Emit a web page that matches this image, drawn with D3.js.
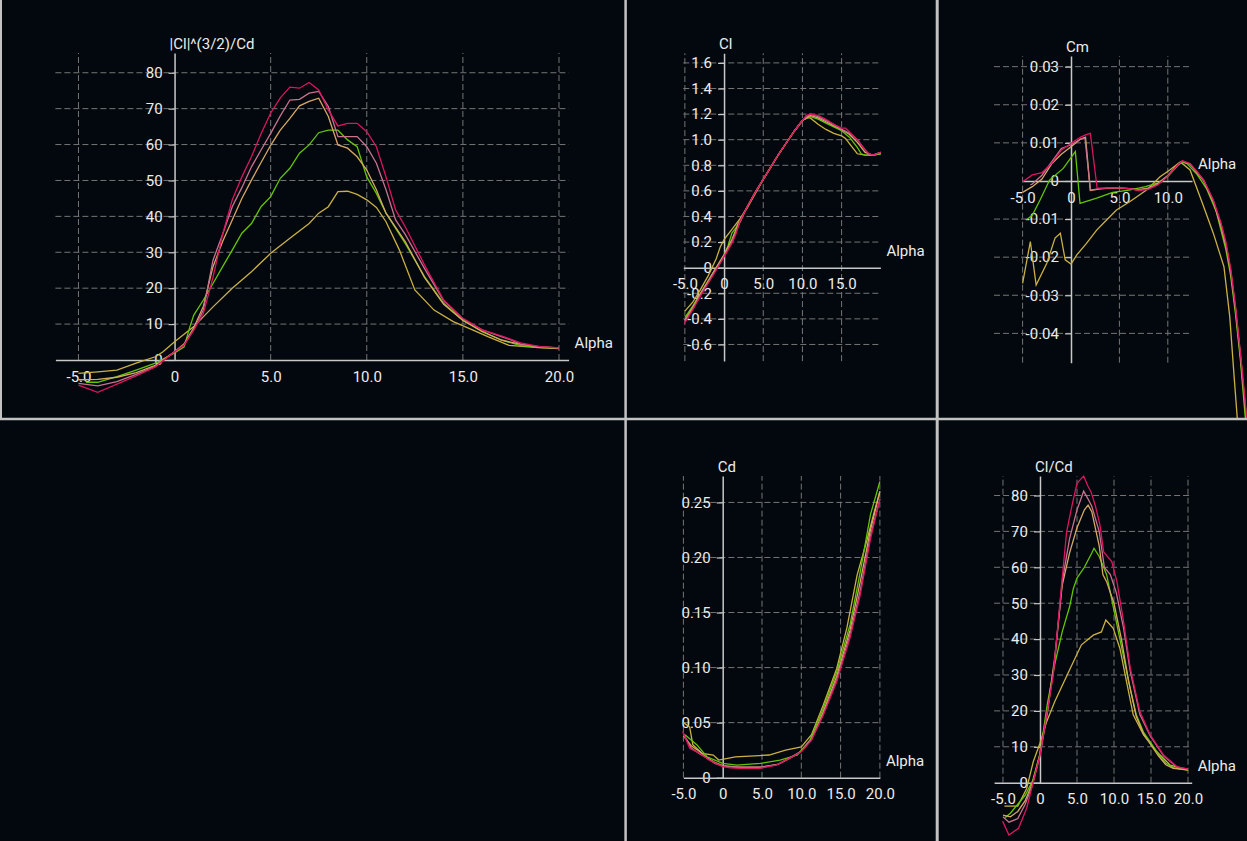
<!DOCTYPE html>
<html>
<head>
<meta charset="utf-8">
<script src="https://cdn.jsdelivr.net/npm/d3@7/dist/d3.min.js"></script>
<style>
html, body { margin: 0; padding: 0; background: #02080d; }
svg { display: block; }
text { font-family: Roboto, "Liberation Sans", Arial, sans-serif; fill: #ececec; }
</style>
</head>
<body>
<svg id="chart" width="1247" height="841"></svg>
<script>
// series order: crimson, pink, tan, green, yellow
var seriesColors = ["#dc1560", "#c8738f", "#d9a864", "#62c700", "#cbb143"];

// |Cl|^(3/2)/Cd vs alpha
var ratioCrimson = [[-5,-7],[-4,-9],[-3,-6.7],[-2,-4.4],[-1,-1.9],[0,2.3],[0.5,4.2],[1,8.4],[1.5,13],[2,23],[2.5,35],[3,44.6],[3.5,51],[4,56.6],[4.5,63],[5,68.8],[5.5,73],[6,76],[6.5,75.7],[7,77.3],[7.5,75.2],[8,69.6],[8.5,65.2],[9,65.9],[9.5,65.9],[10,63.6],[10.5,59.4],[11,51],[11.5,41.8],[12,37.1],[13,26.5],[14,16.7],[15,11.6],[16,8.4],[17,6.7],[18,4.8],[19,3.7],[20,3.4]];
var ratioPink = [[-5,-6.5],[-4,-7.2],[-3,-6],[-2,-4],[-1,-1.8],[0,2.3],[0.5,4.3],[1,8.5],[1.5,14],[2,27.8],[2.5,35],[3,42.7],[3.5,48],[4,53.8],[4.5,58.5],[5,63.1],[5.5,68],[6,72.4],[6.5,72.6],[7,74.3],[7.5,74.8],[8,70.6],[8.5,62.2],[9,62.2],[9.5,62.2],[10,59.4],[10.5,54.8],[11,47.4],[11.5,39],[12,35],[13,25.5],[14,16.5],[15,11.5],[16,8.4],[17,6.5],[17.5,5.6],[18,4.4],[19,3.7],[20,3.4]];
var ratioTan = [[-5,-5.5],[-4,-5.4],[-3,-4.8],[-2,-3.5],[-1,-1.5],[0,2.3],[0.5,4.5],[1,9],[1.5,15],[2,26],[2.5,33],[3,39],[3.5,45],[4,50.1],[4.5,55],[5,59.8],[5.5,64],[6,67.3],[6.5,70.8],[7,72],[7.5,72.9],[8,67.8],[8.5,59.9],[9,59],[9.5,56.6],[10,52.9],[10.5,47.4],[11,40.9],[12,33],[13,23],[14,15.5],[15,11],[16,8],[17,5.5],[18,4.4],[19,3.6],[20,3.4]];
var ratioGreen = [[-4.6,-6.2],[-4,-6.2],[-3,-4.6],[-2,-2.8],[-1,-0.9],[0,2],[0.5,3.7],[0.8,9.3],[1,12.5],[1.5,16.7],[2,21.3],[2.5,26],[3,30.6],[3.5,35.3],[4,38],[4.5,42.7],[5,45.5],[5.5,50.6],[6,53.4],[6.5,57.6],[7,59.9],[7.5,63.3],[8,64],[8.5,64],[9,61.3],[9.5,59.4],[10,51],[10.5,46.4],[11,40.9],[12,32.5],[13,23.2],[14,15.8],[15,11.1],[16,7.9],[17,5.6],[18,4],[19,3.5],[20,3.4]];
var ratioYellow = [[-5,-3.7],[-4,-3.3],[-3,-2.8],[-2,-0.9],[-1,0.9],[-0.6,2.3],[0,5.1],[1,9.3],[2,14.8],[3,20],[4,24.6],[5,29.7],[6,33.9],[7,38],[7.5,40.9],[8,42.7],[8.5,46.9],[9,47],[9.5,46.1],[10,44.6],[10.5,42.5],[11,38.5],[11.7,30.6],[12.5,19.5],[13.5,13.9],[14.5,10.7],[15.5,8.4],[16.3,6.5],[17.4,4.1],[19.1,3.4],[20,3.2]];

// Cl vs alpha
var clCrimson = [[-5.1,-0.44],[-4,-0.33],[-3,-0.22],[-2,-0.12],[-1,-0.02],[0,0.085],[1,0.19],[1.5,0.26],[2,0.36],[3,0.48],[4,0.59],[5,0.69],[6,0.79],[7,0.89],[8,0.98],[9,1.07],[10,1.15],[10.5,1.19],[11,1.2],[12,1.19],[13,1.16],[14,1.12],[15,1.09],[15.5,1.09],[16,1.06],[17,1.0],[18,0.92],[18.5,0.89],[19,0.88],[20,0.9]];
var clPink = [[-5,-0.42],[-4,-0.32],[-3,-0.21],[-2,-0.11],[-1,-0.01],[0,0.09],[1,0.2],[2,0.35],[3,0.48],[4,0.59],[5,0.69],[6,0.79],[7,0.89],[8,0.98],[9,1.07],[10,1.15],[11,1.2],[12,1.18],[13,1.15],[14,1.12],[15,1.08],[16,1.05],[17,1.0],[18,0.92],[18.5,0.88],[19,0.88],[20,0.9]];
var clTan = [[-5,-0.41],[-4,-0.31],[-3,-0.2],[-2,-0.1],[-1,0.0],[0,0.1],[1,0.22],[2,0.37],[3,0.48],[4,0.59],[5,0.69],[6,0.79],[7,0.89],[8,0.98],[9,1.07],[10,1.15],[11,1.19],[12,1.17],[13,1.14],[14,1.11],[15,1.08],[16,1.04],[17,0.98],[18,0.9],[19,0.88],[20,0.9]];
var clGreen = [[-5,-0.39],[-4,-0.3],[-3,-0.2],[-2,-0.1],[-1,0.0],[0,0.1],[0.5,0.17],[1,0.27],[1.5,0.31],[2,0.37],[3,0.48],[4,0.59],[5,0.69],[6,0.79],[7,0.89],[8,0.98],[9,1.07],[10,1.15],[11,1.18],[12,1.16],[13,1.13],[14,1.1],[15,1.07],[16,1.02],[17,0.94],[17.5,0.89],[18,0.88],[19,0.88],[20,0.89]];
var clYellow = [[-5,-0.34],[-4,-0.27],[-3,-0.17],[-2,-0.06],[-1,0.07],[-0.5,0.16],[0,0.22],[1,0.3],[2,0.38],[3,0.47],[4,0.58],[5,0.69],[6,0.79],[7,0.89],[8,0.98],[9,1.07],[10,1.15],[10.5,1.17],[11,1.17],[12,1.12],[13,1.08],[14,1.05],[15,1.03],[15.5,1.01],[16,0.97],[17,0.89],[18,0.88],[19,0.88],[20,0.89]];

// Cm vs alpha
var cmCrimson = [[-5,-0.0002],[-4,0.0016],[-3,0.0022],[-2,0.0046],[-1,0.0081],[0,0.0099],[1,0.0115],[1.5,0.0121],[2,0.0125],[2.7,-0.0019],[3,-0.0019],[4,-0.0018],[5,-0.0018],[6,-0.002],[7,-0.0025],[8,-0.0022],[9,-0.001],[10,0.0012],[11,0.0042],[11.5,0.0053],[12.3,0.0046],[13,0.0025],[13.7,0.0003],[14.7,-0.005],[15.5,-0.011],[16,-0.016],[16.5,-0.023],[17,-0.033],[17.5,-0.045],[18,-0.058],[18.5,-0.072],[19,-0.088]];
var cmPink = [[-4.2,-0.001],[-4,-0.0008],[-3,0.0015],[-2,0.005],[-1,0.0085],[0,0.0095],[1,0.011],[1.45,0.0112],[2,-0.0024],[3,-0.002],[4,-0.0018],[5,-0.0018],[6,-0.002],[7,-0.0024],[8,-0.002],[9,-0.0008],[10,0.0013],[11,0.0042],[11.5,0.0052],[12.3,0.0045],[13,0.0024],[13.7,0.0002],[14.7,-0.0052],[15.5,-0.0115],[16,-0.0165],[16.5,-0.0235],[17,-0.0335],[17.5,-0.0455],[18,-0.059],[18.5,-0.073],[19,-0.089]];
var cmTan = [[-5,-0.003],[-4,-0.0015],[-3,0.0005],[-2,0.0045],[-1,0.007],[0,0.009],[1,0.011],[1.5,0.0115],[2,-0.0025],[3,-0.0021],[4,-0.0019],[5,-0.0019],[6,-0.002],[7,-0.0023],[8,-0.0019],[9,-0.0006],[10,0.0014],[11,0.0043],[11.5,0.0052],[12.3,0.0044],[13,0.0022],[13.7,0.0],[14.7,-0.0055],[15.5,-0.012],[16,-0.017],[16.5,-0.024],[17,-0.034],[17.5,-0.046],[18,-0.06],[18.5,-0.074],[19,-0.09]];
var cmGreen = [[-4.6,-0.0102],[-4,-0.009],[-3.2,-0.005],[-2.2,0.0003],[-0.8,0.0033],[0.45,0.0077],[0.93,-0.0059],[2.65,-0.0045],[4.3,-0.003],[6,-0.0024],[7.7,-0.0015],[9,-0.0005],[10,0.0012],[11,0.004],[11.5,0.005],[12,0.0045],[13,0.0018],[14,-0.002],[15,-0.008],[16,-0.018],[16.5,-0.025],[17,-0.035],[17.5,-0.047],[18,-0.062],[18.5,-0.078]];
var cmYellow = [[-5,-0.0269],[-4.2,-0.0159],[-3.6,-0.0273],[-2.5,-0.0216],[-1.65,-0.015],[-1.1,-0.0137],[-0.6,-0.0207],[0,-0.0218],[0.6,-0.0194],[1.6,-0.0164],[2.65,-0.0129],[3.7,-0.0102],[4.7,-0.0076],[6.1,-0.0054],[7.8,-0.0024],[9.2,0.0011],[10.2,0.0029],[11.3,0.005],[12.3,0.0029],[13.7,-0.0067],[14.7,-0.0137],[15.8,-0.0225],[16.4,-0.0356],[16.9,-0.053],[17.2,-0.063],[17.6,-0.075]];

// Cd vs alpha
var cdCrimson = [[-5.1,0.042],[-4.2,0.0267],[-2.9,0.022],[-1.7,0.016],[0,0.01],[1,0.009],[2.2,0.0085],[4.7,0.0085],[6.8,0.0115],[8.5,0.0176],[10,0.0236],[11.3,0.034],[12.8,0.057],[14.5,0.087],[16.2,0.127],[17.5,0.166],[18.8,0.217],[20,0.253]];
var cdPink = [[-5,0.04],[-4,0.027],[-3,0.022],[-2,0.018],[-1,0.013],[0,0.0105],[2,0.0095],[5,0.0095],[7,0.012],[8.5,0.018],[10,0.024],[11.3,0.035],[12.8,0.058],[14.5,0.089],[16.2,0.13],[17.5,0.17],[18.8,0.22],[20,0.253]];
var cdTan = [[-5,0.038],[-4,0.029],[-3,0.024],[-2,0.018],[-1,0.014],[0,0.011],[2,0.0095],[5,0.0098],[7,0.012],[8.5,0.0175],[10,0.024],[11.3,0.035],[12.8,0.06],[14.5,0.092],[16.2,0.134],[17.5,0.178],[18.8,0.225],[20,0.26]];
var cdGreen = [[-4.8,0.039],[-3.3,0.03],[-2,0.019],[0,0.013],[1.8,0.0115],[4.8,0.013],[7.3,0.016],[9.5,0.0206],[11.1,0.034],[12.8,0.063],[14.5,0.096],[16.2,0.139],[17.5,0.187],[18.8,0.239],[20,0.269]];
var cdYellow = [[-5,0.05],[-4.2,0.046],[-3.8,0.03],[-2.6,0.022],[-1.2,0.0206],[-0.5,0.016],[1.6,0.019],[5.9,0.0206],[8,0.025],[10,0.028],[11.3,0.039],[12.8,0.066],[14.5,0.099],[15.8,0.136],[17.1,0.184],[18.4,0.217],[19.3,0.242],[20,0.26]];

// Cl/Cd vs alpha
var ldCrimson = [[-5.05,-10.7],[-4.2,-14.6],[-2.9,-12.7],[-1.8,-7.1],[-0.9,0.3],[0,7.7],[0.9,18.9],[1.8,30],[2.7,50.4],[3.6,69.9],[4.3,77],[5,83.4],[5.9,85.4],[6.5,82.5],[6.9,81],[7.5,77],[8.1,71.8],[8.6,64.3],[9.7,61.6],[10.4,56],[11.3,44.8],[12.2,31.9],[13.5,19.8],[14.9,13.3],[16.7,7.7],[18.5,4.5],[20,3.8]];
var ldPink = [[-5,-9.5],[-4.2,-11],[-3,-10],[-2,-6],[-1,-0.5],[0,7.5],[1,19.5],[2,34],[3,56],[4,68],[5,76],[5.9,81.2],[6.5,79],[7,77],[8,70],[8.7,60],[9.5,58],[10.3,53],[11.3,43],[12.2,31],[13.5,19],[14.9,13],[16.7,7.5],[18.5,4.3],[20,3.8]];
var ldTan = [[-5,-9],[-4,-9.5],[-3,-8],[-2,-5],[-1,0],[0,8],[1,20],[2,35],[3,55],[4,64],[5,71],[6,76],[6.5,77.3],[7,75.5],[8,66],[8.5,58],[9,56],[10,50],[11,40],[12,28],[13,18.5],[14,13.5],[15,10.5],[16,7.5],[17,5],[18,4],[19,3.8],[20,3.6]];
var ldGreen = [[-4.7,-9.7],[-4,-8.5],[-3,-6],[-2,-3.5],[-1,0.5],[0,8],[1,22],[2,33],[3,42],[4,49],[4.5,54],[5,57],[6,60],[7,64],[7.3,65.3],[8,63],[9,58],[10,48],[11,38],[12,28],[13,19],[14,14],[15,11],[16,8],[17,5.5],[18,4.2],[19,3.8],[20,3.5]];
var ldYellow = [[-4.8,-6.5],[-3,-6.5],[-1.8,-1.6],[-0.9,5.9],[0,11],[0.9,17],[2,22.6],[4.1,31.9],[5.6,38.4],[7.2,41.1],[8.3,42],[8.9,45.3],[9.9,43],[10.8,37.4],[11.7,28.1],[12.6,18.9],[14,13.3],[15.8,8.6],[17.6,4.9],[20,3.5]];

// tick values
var alphaTicks = [-5, 0, 5, 10, 15, 20];
var ratioTicks = [0, 10, 20, 30, 40, 50, 60, 70, 80];
var clTicks = [-0.6, -0.4, -0.2, 0, 0.2, 0.4, 0.6, 0.8, 1.0, 1.2, 1.4, 1.6];
var cmTicks = [-0.04, -0.03, -0.02, -0.01, 0, 0.01, 0.02, 0.03];
var cdTicks = [0, 0.05, 0.10, 0.15, 0.20, 0.25];

var svg = d3.select("#chart");
svg.append("rect").attr("width", 1247).attr("height", 841).attr("fill", "#02080d");

var panels = [
  { title: "|Cl|^(3/2)/Cd", series: [ratioCrimson, ratioPink, ratioTan, ratioGreen, ratioYellow],
    clip: [2, 0, 622, 418], xd: [-6.2, 20.5], xr: [55.4, 568.6], yd: [0, 85.5], yr: [360, 53],
    yt: ratioTicks, ydec: 0 },
  { title: "Cl", series: [clCrimson, clPink, clTan, clGreen, clYellow],
    clip: [627, 0, 309, 418], xd: [-5.2, 19.95], xr: [683.3, 880.4], yd: [-0.73, 1.675], yr: [361.1, 53.3],
    yt: clTicks, ydec: 1 },
  { title: "Cm", series: [cmCrimson, cmPink, cmTan, cmGreen, cmYellow],
    clip: [938.5, 0, 309, 418], xd: [-5, 12.5], xr: [1022.6, 1192], yd: [-0.0477, 0.0328], yr: [362.7, 56],
    yt: cmTicks, ydec: 2, gridX0: 994 },
  { title: "Cd", series: [cdCrimson, cdPink, cdTan, cdGreen, cdYellow],
    clip: [627, 420.5, 309, 421], xd: [-5, 20], xr: [683.4, 879.9], yd: [0, 0.274], yr: [777.7, 476],
    yt: cdTicks, ydec: 2 },
  { title: "Cl/Cd", series: [ldCrimson, ldPink, ldTan, ldGreen, ldYellow],
    clip: [938.5, 420.5, 309, 421], xd: [-6.2, 20.5], xr: [994.1, 1191.7], yd: [0, 85.4], yr: [782.7, 476.1],
    yt: ratioTicks, ydec: 0 }
];

panels.forEach(function(p, i) {
  var x = d3.scaleLinear().domain(p.xd).range(p.xr);
  var y = d3.scaleLinear().domain(p.yd).range(p.yr);
  var g = svg.append("g");
  var xt = alphaTicks.filter(function(v) { return v >= p.xd[0] && v <= p.xd[1]; });
  var gx0 = p.gridX0 != null ? p.gridX0 : p.xr[0];

  // dashed grid
  g.selectAll(".hg").data(p.yt.filter(function(v) { return v !== 0; })).enter().append("line")
    .attr("x1", gx0).attr("x2", p.xr[1])
    .attr("y1", function(d) { return y(d); }).attr("y2", function(d) { return y(d); })
    .attr("stroke", "#767676").attr("stroke-width", 1).attr("stroke-dasharray", "6,3");
  g.selectAll(".vg").data(xt.filter(function(v) { return v !== 0; })).enter().append("line")
    .attr("x1", function(d) { return x(d); }).attr("x2", function(d) { return x(d); })
    .attr("y1", p.yr[0]).attr("y2", p.yr[1])
    .attr("stroke", "#767676").attr("stroke-width", 1).attr("stroke-dasharray", "6,3");

  // axes (hyphen minus, plain "0")
  var ya = g.append("g").attr("transform", "translate(" + x(0) + ",0)")
    .call(d3.axisLeft(y).tickValues(p.yt).tickSize(6).tickSizeOuter(0).tickPadding(6)
      .tickFormat(function(v) { return v === 0 ? "0" : v.toFixed(p.ydec); }));
  var xa = g.append("g").attr("transform", "translate(0," + y(0) + ")")
    .call(d3.axisBottom(x).tickValues(xt).tickSize(0).tickSizeOuter(0).tickPadding(11)
      .tickFormat(function(v) { return v === 0 ? "0" : v.toFixed(1); }));
  [ya, xa].forEach(function(a) {
    a.select(".domain").attr("stroke", "#c8c8c8").attr("stroke-width", 1.5);
    a.selectAll(".tick line").attr("stroke", "#c8c8c8").attr("stroke-width", 1.2);
    a.selectAll(".tick text").attr("fill", "#ececec").style("font-size", "15px")
      .style("font-family", "Roboto, 'Liberation Sans', Arial, sans-serif");
  });

  g.append("text").attr("x", x(0) - 5).attr("y", p.yr[1] - 4)
    .style("font-size", "15px").text(p.title);
  g.append("text").attr("x", p.xr[1] + 6).attr("y", y(0) - 12)
    .style("font-size", "15px").text("Alpha");

  // curves, clipped to their panel
  svg.append("clipPath").attr("id", "clip" + i).append("rect")
    .attr("x", p.clip[0]).attr("y", p.clip[1]).attr("width", p.clip[2]).attr("height", p.clip[3]);
  var line = d3.line().x(function(d) { return x(d[0]); }).y(function(d) { return y(d[1]); });
  var lg = svg.append("g").attr("clip-path", "url(#clip" + i + ")");
  for (var k = p.series.length - 1; k >= 0; k--) {
    lg.append("path").datum(p.series[k]).attr("d", line)
      .attr("fill", "none").attr("stroke", seriesColors[k]).attr("stroke-width", 1.3);
  }
});

// splitter borders between panels
var borders = [
  [1, 0, 1, 418.5, 2],
  [0, 419, 1247, 419, 2.5],
  [625.6, 0, 625.6, 841, 2.5],
  [937.2, 0, 937.2, 841, 3]
];
svg.selectAll(".border").data(borders).enter().append("line")
  .attr("x1", function(d) { return d[0]; }).attr("y1", function(d) { return d[1]; })
  .attr("x2", function(d) { return d[2]; }).attr("y2", function(d) { return d[3]; })
  .attr("stroke", "#c2c2c2").attr("stroke-width", function(d) { return d[4]; });
</script>
</body>
</html>
